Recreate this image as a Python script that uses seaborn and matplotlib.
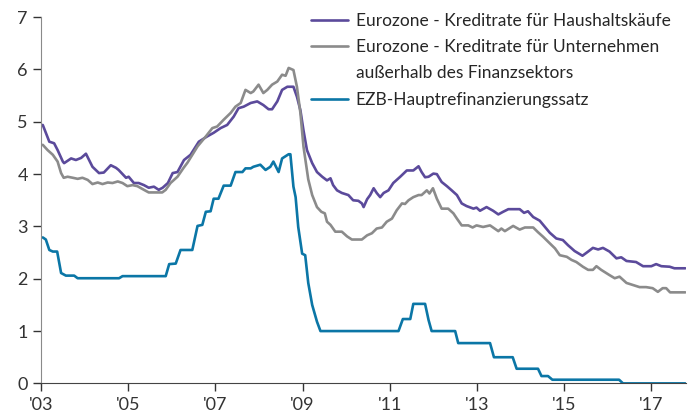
import matplotlib
matplotlib.use("Agg")
import matplotlib.pyplot as plt
from matplotlib.lines import Line2D
import seaborn as sns
import pandas as pd

# data (decimal years, percent)
hh_years = [2003.04, 2003.19, 2003.30, 2003.38, 2003.50, 2003.53, 2003.69, 2003.80, 2003.92, 2004.03,
            2004.18, 2004.33, 2004.44, 2004.60, 2004.72, 2004.78, 2004.95, 2005.01, 2005.13, 2005.24,
            2005.36, 2005.47, 2005.59, 2005.70, 2005.79, 2005.91, 2006.02, 2006.13, 2006.28, 2006.43,
            2006.62, 2006.81, 2006.96, 2007.12, 2007.27, 2007.42, 2007.53, 2007.65, 2007.81, 2007.96,
            2008.10, 2008.22, 2008.30, 2008.42, 2008.53, 2008.65, 2008.79, 2008.87, 2008.95, 2009.02,
            2009.10, 2009.22, 2009.33, 2009.45, 2009.56, 2009.64, 2009.70, 2009.79, 2009.90, 2010.05,
            2010.16, 2010.28, 2010.36, 2010.40, 2010.48, 2010.55, 2010.63, 2010.70, 2010.78, 2010.86,
            2010.97, 2011.08, 2011.24, 2011.39, 2011.54, 2011.66, 2011.73, 2011.81, 2011.89, 2012.00,
            2012.08, 2012.19, 2012.31, 2012.42, 2012.54, 2012.65, 2012.76, 2012.92, 2012.99, 2013.07,
            2013.22, 2013.37, 2013.49, 2013.60, 2013.72, 2013.98, 2014.08, 2014.17, 2014.29, 2014.44,
            2014.56, 2014.67, 2014.82, 2014.97, 2015.09, 2015.24, 2015.42, 2015.55, 2015.66, 2015.78,
            2015.89, 2016.04, 2016.20, 2016.31, 2016.43, 2016.65, 2016.81, 2017.00, 2017.11, 2017.23,
            2017.42, 2017.53, 2017.78]
hh_rate = [4.94, 4.62, 4.59, 4.46, 4.24, 4.21, 4.30, 4.27, 4.31, 4.39,
           4.14, 4.02, 4.03, 4.17, 4.12, 4.08, 3.93, 3.95, 3.83, 3.83,
           3.79, 3.74, 3.76, 3.70, 3.74, 3.83, 4.02, 4.04, 4.27, 4.37,
           4.62, 4.72, 4.79, 4.88, 4.94, 5.10, 5.26, 5.29, 5.36, 5.39,
           5.32, 5.24, 5.24, 5.39, 5.61, 5.67, 5.67, 5.48, 5.22, 4.84,
           4.46, 4.21, 4.04, 3.95, 3.88, 3.92, 3.79, 3.69, 3.64, 3.60,
           3.50, 3.49, 3.44, 3.37, 3.52, 3.60, 3.73, 3.64, 3.56, 3.64,
           3.69, 3.83, 3.95, 4.07, 4.07, 4.15, 4.04, 3.94, 3.95, 4.01,
           4.00, 3.85, 3.77, 3.69, 3.60, 3.44, 3.39, 3.34, 3.36, 3.30,
           3.37, 3.30, 3.23, 3.28, 3.33, 3.33, 3.26, 3.29, 3.18, 3.11,
           2.99, 2.88, 2.77, 2.74, 2.64, 2.53, 2.44, 2.52, 2.59, 2.56,
           2.59, 2.52, 2.39, 2.41, 2.34, 2.32, 2.24, 2.24, 2.28, 2.24,
           2.23, 2.20, 2.20]

nfc_years = [2003.04, 2003.15, 2003.27, 2003.38, 2003.46, 2003.52, 2003.61, 2003.73, 2003.84, 2003.95,
             2004.07, 2004.18, 2004.30, 2004.41, 2004.53, 2004.64, 2004.76, 2004.87, 2004.98, 2005.10,
             2005.21, 2005.36, 2005.47, 2005.63, 2005.78, 2005.86, 2005.97, 2006.13, 2006.27, 2006.36,
             2006.59, 2006.78, 2006.93, 2007.04, 2007.19, 2007.35, 2007.46, 2007.58, 2007.69, 2007.81,
             2007.87, 2007.99, 2008.10, 2008.19, 2008.30, 2008.42, 2008.53, 2008.61, 2008.68, 2008.79,
             2008.87, 2008.95, 2009.02, 2009.06, 2009.13, 2009.22, 2009.33, 2009.43, 2009.51, 2009.56,
             2009.64, 2009.75, 2009.90, 2010.02, 2010.13, 2010.36, 2010.48, 2010.59, 2010.70, 2010.82,
             2010.93, 2011.05, 2011.16, 2011.28, 2011.35, 2011.43, 2011.54, 2011.66, 2011.73, 2011.85,
             2011.91, 2011.99, 2012.08, 2012.19, 2012.34, 2012.46, 2012.54, 2012.65, 2012.80, 2012.90,
             2012.99, 2013.14, 2013.30, 2013.49, 2013.56, 2013.64, 2013.83, 2013.98, 2014.10, 2014.29,
             2014.40, 2014.52, 2014.63, 2014.79, 2014.90, 2015.06, 2015.17, 2015.28, 2015.43, 2015.55,
             2015.66, 2015.74, 2015.85, 2016.04, 2016.16, 2016.27, 2016.43, 2016.58, 2016.73, 2016.88,
             2017.03, 2017.15, 2017.26, 2017.34, 2017.43, 2017.78]
nfc_rate = [4.56, 4.46, 4.37, 4.24, 4.02, 3.93, 3.95, 3.93, 3.91, 3.93,
            3.89, 3.81, 3.84, 3.81, 3.84, 3.83, 3.86, 3.83, 3.77, 3.79,
            3.77, 3.70, 3.65, 3.65, 3.65, 3.70, 3.83, 3.95, 4.12, 4.22,
            4.53, 4.72, 4.88, 4.91, 5.04, 5.17, 5.29, 5.36, 5.61, 5.55,
            5.58, 5.71, 5.55, 5.61, 5.71, 5.77, 5.90, 5.88, 6.03, 5.99,
            5.67, 5.17, 4.53, 4.30, 3.90, 3.60, 3.37, 3.28, 3.25, 3.09,
            3.03, 2.90, 2.90, 2.81, 2.75, 2.75, 2.83, 2.87, 2.96, 2.98,
            3.09, 3.15, 3.31, 3.44, 3.43, 3.50, 3.56, 3.60, 3.60, 3.69,
            3.63, 3.73, 3.53, 3.34, 3.34, 3.25, 3.15, 3.02, 3.02, 2.98,
            3.02, 2.99, 3.02, 2.91, 2.96, 2.91, 3.01, 2.94, 2.98, 2.98,
            2.89, 2.80, 2.71, 2.58, 2.45, 2.42, 2.36, 2.32, 2.23, 2.17,
            2.17, 2.24, 2.17, 2.07, 2.01, 2.04, 1.92, 1.88, 1.84, 1.84,
            1.82, 1.75, 1.82, 1.82, 1.74, 1.74]

ecb_years = [2003.04, 2003.11, 2003.19, 2003.27, 2003.37, 2003.46, 2003.57, 2003.76, 2003.84, 2004.79,
             2004.87, 2005.86, 2005.94, 2006.09, 2006.20, 2006.47, 2006.59, 2006.70, 2006.78, 2006.89,
             2006.96, 2007.07, 2007.19, 2007.35, 2007.46, 2007.62, 2007.69, 2007.81, 2007.87, 2008.03,
             2008.15, 2008.26, 2008.33, 2008.45, 2008.53, 2008.68, 2008.72, 2008.79, 2008.84, 2008.90,
             2008.99, 2009.06, 2009.13, 2009.22, 2009.33, 2009.41, 2011.20, 2011.30, 2011.47, 2011.54,
             2011.81, 2011.89, 2011.96, 2012.50, 2012.57, 2013.30, 2013.39, 2013.82, 2013.91, 2014.40,
             2014.48, 2014.63, 2014.73, 2016.26, 2016.35, 2017.78]
ecb_rate = [2.79, 2.75, 2.55, 2.52, 2.52, 2.11, 2.06, 2.06, 2.01, 2.01,
            2.05, 2.05, 2.28, 2.29, 2.55, 2.55, 3.01, 3.03, 3.28, 3.29,
            3.53, 3.53, 3.78, 3.78, 4.04, 4.04, 4.11, 4.11, 4.14, 4.18,
            4.08, 4.14, 4.24, 4.04, 4.30, 4.38, 4.38, 3.76, 3.56, 2.99,
            2.48, 2.45, 1.92, 1.50, 1.18, 1.00, 1.00, 1.23, 1.23, 1.52,
            1.52, 1.21, 1.00, 1.00, 0.77, 0.77, 0.50, 0.50, 0.28, 0.28,
            0.14, 0.14, 0.07, 0.07, 0.00, 0.00]

labels = ["Eurozone - Kreditrate für Haushaltskäufe",
          "Eurozone - Kreditrate für Unternehmen",
          "EZB-Hauptrefinanzierungssatz"]
label_cont = "außerhalb des Finanzsektors"
colors = ["#5b4a9b", "#8b8b8b", "#0b76a6"]
x_ticks = [2003, 2005, 2007, 2009, 2011, 2013, 2015, 2017]
x_tick_labels = ["'03", "'05", "'07", "'09", "'11", "'13", "'15", "'17"]

df = pd.concat([
    pd.DataFrame({"Jahr": hh_years, "Zins": hh_rate, "Serie": labels[0]}),
    pd.DataFrame({"Jahr": nfc_years, "Zins": nfc_rate, "Serie": labels[1]}),
    pd.DataFrame({"Jahr": ecb_years, "Zins": ecb_rate, "Serie": labels[2]}),
])

sns.set_style("ticks")
plt.rcParams['font.family'] = ['Lato', 'DejaVu Sans']

fig = plt.figure(figsize=(6.99, 4.19), dpi=100)
ax = fig.add_axes([0.0587, 0.085, 0.923, 0.874])
sns.lineplot(data=df, x="Jahr", y="Zins", hue="Serie", palette=colors,
             linewidth=1.9, sort=False, estimator=None, ax=ax)

ax.set_xlim(2003, 2017.8)
ax.set_ylim(0, 7)
ax.set_xticks(x_ticks)
ax.set_xticklabels(x_tick_labels)
ax.set_yticks(range(0, 8))
ax.set_xlabel("")
ax.set_ylabel("")
ax.tick_params(axis="both", labelsize=13, colors="#333333", length=6, width=1, direction="out")
for s in ["top", "right"]:
    ax.spines[s].set_visible(False)
ax.spines["left"].set_color("#8a8a8a")
ax.spines["bottom"].set_color("#444444")

# legend: second entry wraps onto a line without handle
handles, _ = ax.get_legend_handles_labels()
blank = Line2D([], [], color="none")
ax.legend([handles[0], handles[1], blank, handles[2]],
          [labels[0], labels[1], label_cont, labels[2]],
          loc="upper right", bbox_to_anchor=(1.0, 1.055), frameon=False, fontsize=12.5,
          handlelength=2.1, handletextpad=0.45, labelspacing=0.6)

plt.savefig("out.png", dpi=100)
